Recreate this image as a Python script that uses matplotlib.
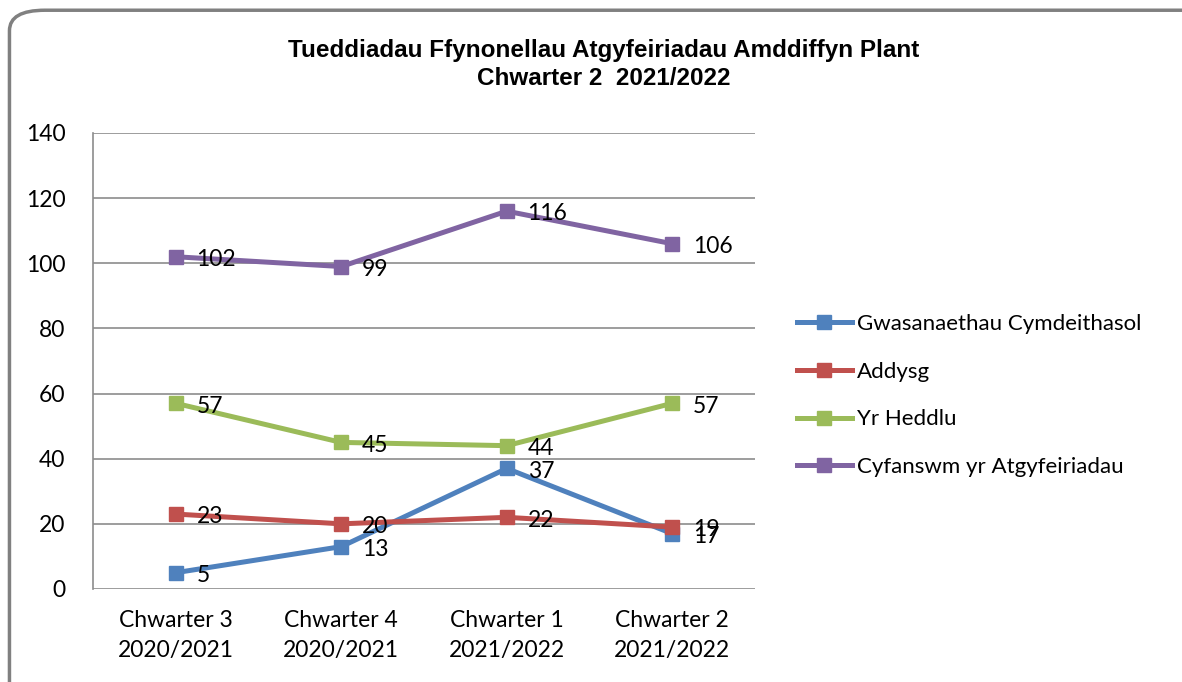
import matplotlib
matplotlib.use("Agg")
import matplotlib.pyplot as plt
from matplotlib.patches import FancyBboxPatch

# data
categories = ["Chwarter 3\n2020/2021", "Chwarter 4\n2020/2021",
              "Chwarter 1\n2021/2022", "Chwarter 2\n2021/2022"]
series_names = ["Gwasanaethau Cymdeithasol", "Addysg", "Yr Heddlu",
                "Cyfanswm yr Atgyfeiriadau"]
gwasanaethau = [5, 13, 37, 17]
addysg = [23, 20, 22, 19]
heddlu = [57, 45, 44, 57]
cyfanswm = [102, 99, 116, 106]
colors = ["#4F81BD", "#C0504D", "#9BBB59", "#8064A2"]

plt.rcParams['font.family'] = ['Lato', 'DejaVu Sans']

fig = plt.figure(figsize=(11.82, 6.82), dpi=100)
ax = fig.add_axes([0.0787, 0.1364, 0.56, 0.6686])

# rounded border around the whole chart
border = FancyBboxPatch((0.008, -0.05), 1.05, 1.035,
                        boxstyle="round,pad=0,rounding_size=0.03",
                        transform=fig.transFigure, fill=False,
                        edgecolor="#808080", linewidth=2.5, clip_on=False)
fig.patches.append(border)

x = list(range(len(categories)))
all_series = [gwasanaethau, addysg, heddlu, cyfanswm]
for name, vals, col in zip(series_names, all_series, colors):
    ax.plot(x, vals, color=col, linewidth=3.6, marker='s', markersize=10.5,
            label=name, zorder=3)
    for xi, v in zip(x, vals):
        ax.annotate(str(v), (xi, v), xytext=(15, -2), textcoords='offset points',
                    ha='left', va='center', fontsize=16.5, color='black', zorder=4)

ax.set_xlim(-0.5, 3.5)
ax.set_ylim(0, 140)
ax.set_yticks(range(0, 141, 20))
ax.set_xticks(x)
ax.set_xticklabels(categories, fontsize=16.5, linespacing=1.55)
ax.tick_params(axis='y', labelsize=16.5, length=0, pad=20)
ax.tick_params(axis='x', length=0, pad=15)
ax.grid(axis='y', color='#8c8c8c', linewidth=1.2)
ax.set_axisbelow(True)
for s in ['top', 'right', 'bottom']:
    ax.spines[s].set_visible(False)
ax.spines['left'].set_color('#8c8c8c')
ax.spines['left'].set_linewidth(1.2)

fig.text(0.511, 0.905, "Tueddiadau Ffynonellau Atgyfeiriadau Amddiffyn Plant\nChwarter 2  2021/2022",
         ha='center', va='center', fontsize=17.5, fontweight='bold',
         family=['Liberation Sans Narrow', 'Liberation Sans', 'DejaVu Sans'],
         linespacing=1.3)

fig.legend(loc='center left', bbox_to_anchor=(0.657, 0.42), frameon=False,
           fontsize=16, handlelength=2.5, handletextpad=0.2, labelspacing=1.25)

fig.savefig("out.png", dpi=100)
